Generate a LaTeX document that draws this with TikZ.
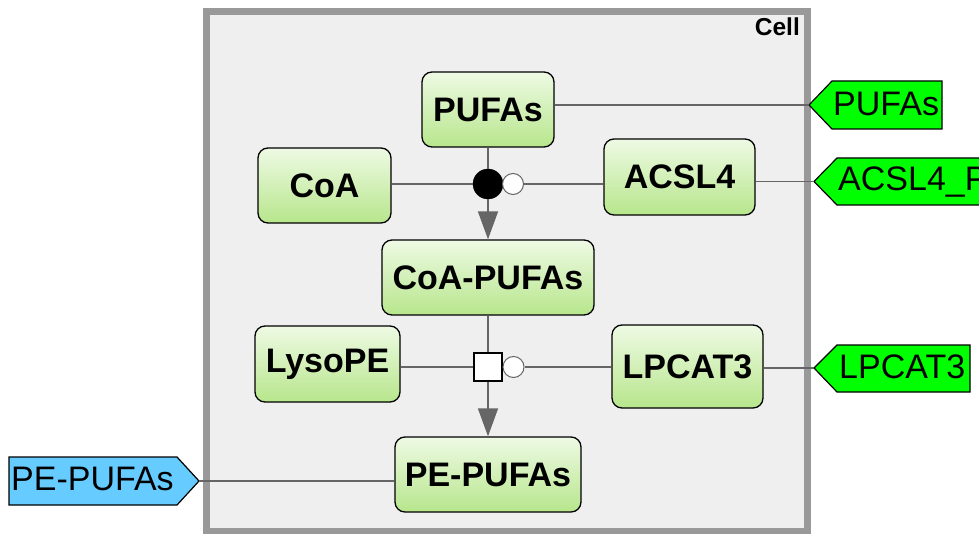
\documentclass[tikz,border=0pt]{standalone}
\usepackage{fontspec}
\setmainfont{Liberation Sans}
\usetikzlibrary{arrows.meta}
\definecolor{cellfill}{HTML}{EFEFEF}
\definecolor{cellline}{HTML}{999999}
\definecolor{edgegray}{HTML}{666666}
\definecolor{gtop}{HTML}{EEFAE4}
\definecolor{gbot}{HTML}{B7E68C}
\definecolor{taggreen}{HTML}{00FF00}
\definecolor{tagblue}{HTML}{66CCFF}
\begin{document}
\begin{tikzpicture}[x=1pt,y=-1pt,
  species/.style={draw=black, line width=1.3pt, rounded corners=10pt,
    top color=gtop, bottom color=gbot, inner sep=0pt, minimum height=75pt,
    font=\fontsize{34}{38}\selectfont\bfseries},
  tagshape/.style={draw=black, line width=1.2pt},
  tagtext/.style={anchor=base west, inner sep=0pt, font=\fontsize{34}{38}\selectfont},
  link/.style={draw=edgegray, line width=1.5pt},
  prod/.style={link, -{Triangle[length=28pt,width=20pt]}},
  catal/.style={circle, draw=edgegray, fill=white, line width=1pt, minimum size=21pt, inner sep=0pt}]
\useasboundingbox (0,0) rectangle (979,534);
\clip (0,0) rectangle (979,534);

% compartment
\draw[cellline, line width=7pt, fill=cellfill] (206.5,11.5) rectangle (807,531);
\node[anchor=base east, inner sep=0pt, font=\fontsize{24.5}{26}\selectfont\bfseries] (celllabel) at (800,36) {Cell};

% species
\node[species, minimum width=132pt] (pufas) at (488,109.5) {PUFAs};
\node[species, minimum width=133pt] (coa) at (324.5,185.5) {CoA};
\node[species, minimum width=151pt, minimum height=76pt] (acsl4) at (679.5,177) {ACSL4};
\node[species, minimum width=212pt] (coapufas) at (488,277.5) {CoA-PUFAs};
\node[species, minimum width=145pt, minimum height=76pt] (lysope) at (327.5,364) {LysoPE};
\node[species, minimum width=151pt, minimum height=83pt] (lpcat3) at (687.5,366.5) {LPCAT3};
\node[species, minimum width=186pt] (pepufas) at (488,474.5) {PE-PUFAs};

% process nodes
\node[circle, fill=black, draw=black, minimum size=30pt, inner sep=0pt] (p1) at (488,184) {};
\node[catal] (c1) at (513,184) {};
\node[rectangle, draw=black, fill=white, line width=1.3pt, minimum size=28pt, inner sep=0pt] (p2) at (488,367) {};
\node[catal] (c2) at (513.5,367) {};

% port tags
\draw[tagshape, fill=taggreen] (809,105) -- (832,81) -- (942,81) -- (942,129) -- (832,129) -- cycle;
\coordinate (tpufas) at (809,105);
\node[tagtext] (tpufaslbl) at (833,116) {PUFAs};

\draw[tagshape, fill=taggreen] (814,181.5) -- (837,158) -- (1060,158) -- (1060,205) -- (837,205) -- cycle;
\coordinate (tacsl) at (814,181.5);
\node[tagtext] (tacsllbl) at (838,191) {ACSL4\_P};

\draw[tagshape, fill=taggreen] (814,368) -- (837,345) -- (970,345) -- (970,392) -- (837,392) -- cycle;
\coordinate (tlpcat) at (814,368);
\node[tagtext] (tlpcatlbl) at (839,378) {LPCAT3};

\draw[tagshape, fill=tagblue] (9,457) -- (177,457) -- (199,481) -- (177,505) -- (9,505) -- cycle;
\coordinate (tpe) at (199,481);
\node[tagtext] (tpelbl) at (11,490) {PE-PUFAs};

% reactions
\draw[link] (pufas.south) -- (p1.north);
\draw[prod] (p1.south) -- (coapufas.north);
\draw[link] (coa.east |- p1) -- (p1.west);
\draw[link] (acsl4.west |- c1) -- (c1.east);
\draw[link] (coapufas.south) -- (p2.north);
\draw[prod] (p2.south) -- (pepufas.north);
\draw[link] (lysope.east |- p2) -- (p2.west);
\draw[link] (lpcat3.west |- c2) -- (c2.east);

% links to ports
\draw[link] (pufas.east |- tpufas) -- (tpufas);
\draw[link] (acsl4.east |- tacsl) -- (tacsl);
\draw[link] (lpcat3.east |- tlpcat) -- (tlpcat);
\draw[link] (pepufas.west |- tpe) -- (tpe);
\end{tikzpicture}
\end{document}
